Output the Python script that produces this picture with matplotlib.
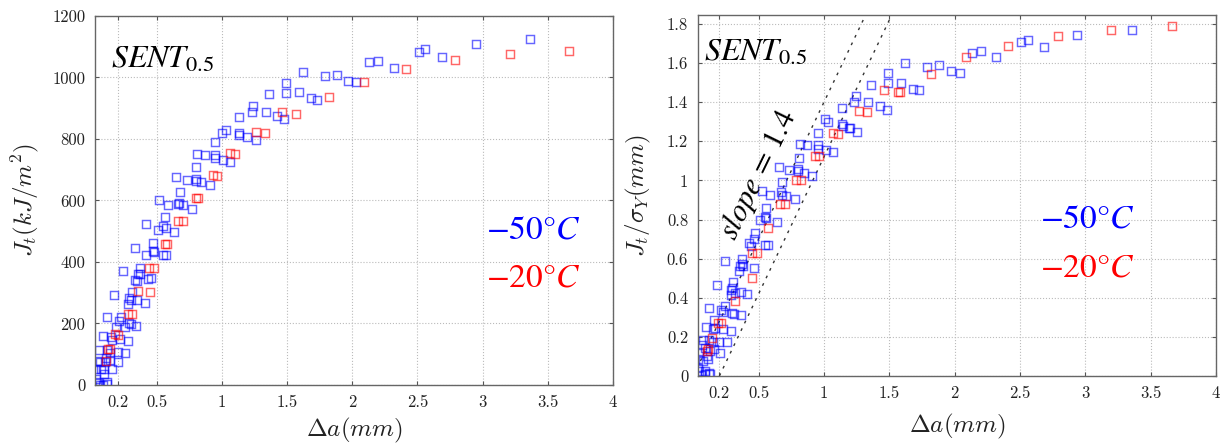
import numpy as np
import matplotlib.pyplot as plt

plt.rcParams['font.family'] = 'serif'
plt.rcParams['font.serif'] = ['cmr10', 'DejaVu Serif']
plt.rcParams['mathtext.fontset'] = 'cm'
plt.rcParams['axes.unicode_minus'] = False

# ---- left panel: J_t (kJ/m^2) vs crack growth ----
a_blue_L = [2.51, 2.56, 2.69, 2.95, 3.36, 2.20, 2.13, 2.32,
            1.62, 1.79, 1.88, 1.97, 2.03, 1.49, 1.49, 1.59, 1.68, 1.73, 1.36, 1.34, 1.42, 1.48,
            1.24, 1.23, 1.13, 1.13, 1.13, 1.19, 1.26, 1.03, 1.00, 0.95, 0.95, 0.95, 1.01, 1.06,
            0.81, 0.87, 0.80, 0.65, 0.73, 0.80, 0.80, 0.84, 0.91, 0.68, 0.52, 0.59, 0.67, 0.70,
            0.77, 0.56, 0.66, 0.42, 0.55, 0.51, 0.57, 0.63, 0.47, 0.47, 0.48, 0.42, 0.55, 0.57,
            0.33, 0.24, 0.37, 0.36, 0.37, 0.35, 0.33, 0.43, 0.46, 0.17, 0.31, 0.29, 0.30, 0.35,
            0.41, 0.28, 0.12, 0.21, 0.23, 0.19, 0.26, 0.29, 0.30, 0.34, 0.09, 0.15, 0.16, 0.22,
            0.28, 0.055, 0.12, 0.14, 0.20, 0.26, 0.047, 0.063, 0.10, 0.20, 0.03, 0.073, 0.096,
            0.155, 0.037, 0.047, 0.098, 0.12, 0.12, 0.065, 0.09, 0.042, 0.11, 0.14]
J_blue_L = [1083, 1092, 1066, 1108, 1125, 1054, 1050, 1032,
            1019, 1004, 1007, 988, 984, 983, 949, 952, 933, 928, 946, 889, 874, 865,
            908, 888, 871, 820, 812, 807, 796, 829, 820, 790, 747, 738, 733, 724,
            751, 748, 710, 676, 667, 670, 662, 660, 649, 627, 601, 586, 593, 585,
            573, 545, 589, 523, 517, 504, 511, 497, 462, 437, 432, 422, 423, 422,
            446, 371, 381, 361, 361, 338, 340, 345, 348, 294, 301, 284, 276, 276,
            266, 262, 221, 208, 222, 189, 190, 201, 199, 193, 158, 157, 146, 149,
            144, 115, 114, 103, 108, 105, 77, 75, 76, 75, 51, 52, 52,
            51, 20, 11, 35, 10, 2, 0, 0, 5, 87, 81]
a_red_L = [2.41, 2.79, 3.21, 3.66, 1.46, 1.57, 1.82, 2.09, 1.26, 1.33, 1.06, 1.10,
           0.93, 0.96, 0.80, 0.82, 0.66, 0.70, 0.56, 0.58, 0.44, 0.48, 0.36, 0.45,
           0.28, 0.31, 0.18, 0.20, 0.13, 0.14, 0.11]
J_red_L = [1027, 1057, 1076, 1086, 887, 880, 937, 986, 822, 818, 754, 752,
           682, 679, 607, 607, 533, 533, 458, 458, 381, 379, 307, 302,
           232, 232, 165, 163, 117, 118, 77]

# ---- right panel: J_t / sigma_Y (mm) vs crack growth ----
a_blue_R = [1.62, 1.59, 1.68, 1.73, 1.79, 1.88, 1.97, 2.04, 2.13, 2.20, 2.32, 2.51, 2.56,
            2.68, 2.94, 3.36, 1.49, 1.49, 1.36, 1.245, 1.23, 1.34, 1.43, 1.48, 1.20, 1.255,
            1.135, 1.01, 1.03, 0.954, 1.14, 1.145, 1.19, 0.816, 0.868, 0.952, 0.954, 1.015,
            1.067, 0.806, 0.80, 0.80, 0.845, 0.653, 0.735, 0.908, 0.68, 0.525, 0.59, 0.67,
            0.68, 0.71, 0.78, 0.558, 0.55, 0.556, 0.51, 0.643, 0.472, 0.464, 0.55, 0.574,
            0.44, 0.424, 0.24, 0.37, 0.37, 0.357, 0.38, 0.35, 0.467, 0.18, 0.306, 0.30,
            0.29, 0.317, 0.363, 0.413, 0.29, 0.122, 0.24, 0.214, 0.225, 0.296, 0.31, 0.365,
            0.097, 0.158, 0.148, 0.168, 0.23, 0.286, 0.077, 0.122, 0.148, 0.20, 0.255,
            0.067, 0.092, 0.128, 0.158, 0.204, 0.046, 0.036, 0.077, 0.112, 0.102, 0.036,
            0.046, 0.087, 0.118, 0.061, 0.087, 0.128]
J_blue_R = [1.60, 1.50, 1.47, 1.46, 1.58, 1.59, 1.56, 1.55, 1.65, 1.66, 1.63, 1.71, 1.72,
            1.68, 1.745, 1.77, 1.55, 1.50, 1.49, 1.43, 1.40, 1.40, 1.38, 1.36, 1.27, 1.25,
            1.37, 1.315, 1.30, 1.245, 1.29, 1.28, 1.27, 1.185, 1.18, 1.18, 1.163, 1.156,
            1.143, 1.117, 1.06, 1.05, 1.04, 1.067, 1.054, 1.025, 0.99, 0.946, 0.924, 0.94,
            0.928, 0.92, 0.905, 0.86, 0.815, 0.808, 0.80, 0.788, 0.73, 0.70, 0.668, 0.668,
            0.663, 0.68, 0.586, 0.60, 0.574, 0.56, 0.564, 0.535, 0.55, 0.467, 0.479, 0.452,
            0.438, 0.424, 0.431, 0.419, 0.412, 0.349, 0.359, 0.335, 0.327, 0.324, 0.318, 0.313,
            0.253, 0.288, 0.242, 0.245, 0.238, 0.228, 0.182, 0.185, 0.175, 0.175, 0.172,
            0.156, 0.144, 0.13, 0.136, 0.12, 0.122, 0.088, 0.079, 0.088, 0.10, 0.042,
            0.028, 0.025, 0.014, 0.006, 0.008, 0.008]
a_red_R = [1.58, 1.82, 2.09, 2.41, 2.79, 3.20, 3.66, 1.46, 1.57, 1.27, 1.33, 1.067, 1.107,
           0.934, 0.96, 0.788, 0.824, 0.66, 0.70, 0.57, 0.447, 0.485, 0.45, 0.317,
           0.19, 0.21, 0.143, 0.115, 0.107]
J_red_R = [1.45, 1.545, 1.63, 1.69, 1.74, 1.77, 1.79, 1.46, 1.45, 1.356, 1.35, 1.245, 1.24,
           1.127, 1.125, 1.0, 1.0, 0.877, 0.877, 0.755, 0.63, 0.627, 0.503, 0.383,
           0.27, 0.27, 0.194, 0.139, 0.13]

slope = 1.4
slope_offsets = [0.0, 0.2]

xticks = [0.2, 0.5, 1, 1.5, 2, 2.5, 3, 3.5, 4]
xticklabels = ['0.2', '0.5', '1', '1.5', '2', '2.5', '3', '3.5', '4']
yticks_L = [0, 200, 400, 600, 800, 1000, 1200]
yticks_R = [0, 0.2, 0.4, 0.6, 0.8, 1, 1.2, 1.4, 1.6, 1.8]
yticklabels_R = ['0', '0.2', '0.4', '0.6', '0.8', '1', '1.2', '1.4', '1.6', '1.8']

fig = plt.figure(figsize=(12.23, 4.44), dpi=100)
axL = fig.add_axes([0.0777, 0.1329, 0.4235, 0.8311])
axR = fig.add_axes([0.5707, 0.1532, 0.4236, 0.8130])

mk = dict(marker='s', ls='none', ms=5.2, mfc='none', mew=1.05, alpha=0.6)

def style(ax, yt, ytl, xpad):
    ax.set_xticks(xticks)
    ax.set_xticklabels(xticklabels)
    ax.set_yticks(yt)
    ax.set_yticklabels(ytl)
    ax.tick_params(direction='in', length=3, top=True, right=True,
                   labelsize=12, colors='#555555', labelcolor='#222222', pad=7)
    ax.grid(True, ls=':', color='#bbbbbb', lw=0.8)
    for s in ax.spines.values():
        s.set_color('#666666')
        s.set_linewidth(1.0)
    ax.set_xlabel(r'$\Delta a(mm)$', fontsize=18, color='#222222', labelpad=xpad)

# left panel
axL.plot(a_blue_L, J_blue_L, color='blue', **mk)
axL.plot(a_red_L, J_red_L, color='red', **mk)
axL.set_xlim(0.027, 4)
axL.set_ylim(0, 1200)
style(axL, yticks_L, [str(v) for v in yticks_L], 4)
axL.set_ylabel(r'$J_t(kJ/m^2)$', fontsize=18, color='#222222', labelpad=8)
axL.text(0.03, 0.882, r'$SENT_{0.5}$', transform=axL.transAxes, fontsize=23,
         math_fontfamily='stix', va='center')
axL.text(0.755, 0.42, r'$-50\degree C$', transform=axL.transAxes, fontsize=24,
         math_fontfamily='stix', color='blue', va='center')
axL.text(0.755, 0.29, r'$-20\degree C$', transform=axL.transAxes, fontsize=24,
         math_fontfamily='stix', color='red', va='center')

# right panel
for off in slope_offsets:
    xs = np.array([off, 4.0])
    axR.plot(xs, slope * (xs - off), ls=(0, (2, 4)), color='#333333', lw=1.0)
axR.plot(a_blue_R, J_blue_R, color='blue', **mk)
axR.plot(a_red_R, J_red_R, color='red', **mk)
axR.set_xlim(0.036, 4)
axR.set_ylim(0, 1.846)
style(axR, yticks_R, yticklabels_R, 8)
axR.set_ylabel(r'$J_t/\sigma_Y(mm)$', fontsize=18, color='#222222', labelpad=10)
axR.text(0.012, 0.897, r'$SENT_{0.5}$', transform=axR.transAxes, fontsize=23,
         math_fontfamily='stix', va='center')
axR.text(0.66, 0.435, r'$-50\degree C$', transform=axR.transAxes, fontsize=24,
         math_fontfamily='stix', color='blue', va='center')
axR.text(0.66, 0.30, r'$-20\degree C$', transform=axR.transAxes, fontsize=24,
         math_fontfamily='stix', color='red', va='center')
axR.text(0.5, 1.03, r'$slope\,=\,\mathit{1.4}$', fontsize=22, math_fontfamily='stix',
         rotation=64, rotation_mode='anchor', ha='center', va='center')

fig.savefig('out.png', dpi=100)
